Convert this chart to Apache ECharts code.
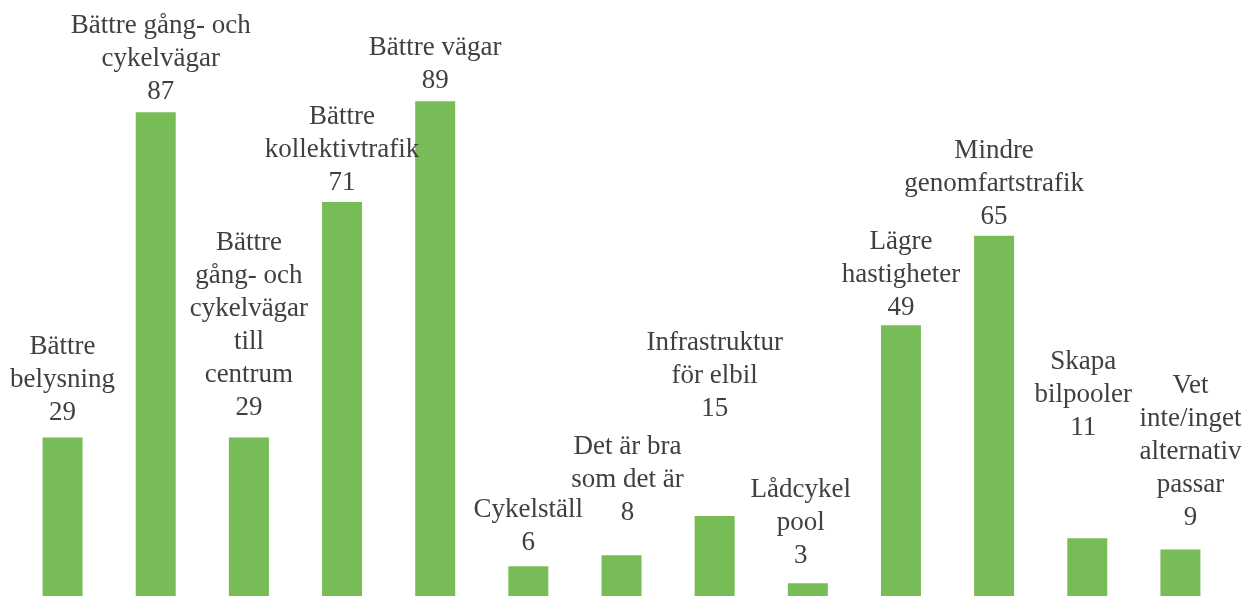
<!DOCTYPE html>
<html>
<head>
<meta charset="utf-8">
<style>
  html, body { margin: 0; padding: 0; background: #fff; overflow: hidden; }
  /* a little taller than the window: the bar baseline falls just out of view */
  #chart { width: 1258px; height: 600px; }
</style>
<script src="https://cdn.jsdelivr.net/npm/echarts@6/dist/echarts.min.js"></script>
</head>
<body>
<div id="chart"></div>
<script>
const categories = [
  'Bättre\nbelysning',
  'Bättre gång- och\ncykelvägar',
  'Bättre\ngång- och\ncykelvägar\ntill\ncentrum',
  'Bättre\nkollektivtrafik',
  'Bättre vägar',
  'Cykelställ',
  'Det är bra\nsom det är',
  'Infrastruktur\nför elbil',
  'Lådcykel\npool',
  'Lägre\nhastigheter',
  'Mindre\ngenomfartstrafik',
  'Skapa\nbilpooler',
  'Vet\ninte/inget\nalternativ\npassar'
]
const answers = [29, 87, 29, 71, 89, 6, 8, 15, 3, 49, 65, 11, 9]

// label placement tweaks (distance above bar, horizontal shift)
const labelLift = [8, 4, 13, 3, 4, 7, 26, 91, 11, 1, 2, 94, 15]
const labelShift = [0, 5, 0, 0, 0, 0, 6, 0, -7, 0, 0, -4, 10]

const chart = echarts.init(document.getElementById('chart'))
chart.setOption({
  backgroundColor: '#ffffff',
  animation: false,
  grid: { left: 16, right: 31, top: 39.5, bottom: 0 },
  xAxis: {
    type: 'category',
    data: categories,
    show: false
  },
  yAxis: {
    type: 'value',
    min: 0,
    max: 100,
    show: false
  },
  series: [
    {
      type: 'bar',
      barWidth: 40,
      itemStyle: { color: '#78bc57' },
      data: answers.map((v, i) => ({
        value: v,
        label: { distance: labelLift[i], offset: [labelShift[i], 0] }
      })),
      label: {
        show: true,
        position: 'top',
        fontFamily: '"Liberation Serif", "DejaVu Serif", serif',
        fontSize: 27,
        lineHeight: 33,
        color: '#404040',
        align: 'center',
        formatter: (p) => p.name + '\n' + p.value
      }
    }
  ]
})
</script>
</body>
</html>
